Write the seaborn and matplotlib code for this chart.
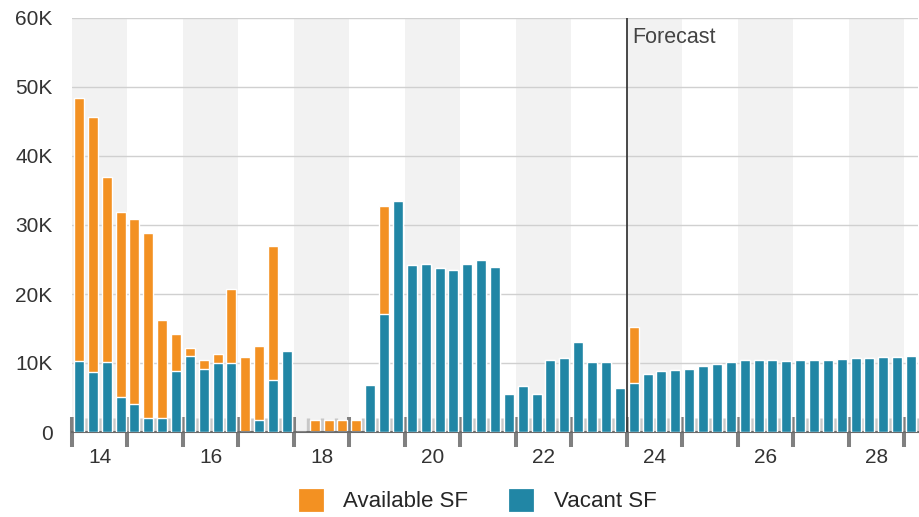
import matplotlib.pyplot as plt
import matplotlib.patches as mpatches
import pandas as pd
import seaborn as sns

# Quarterly data, 2014 Q1 .. 2029 Q1 (values in thousand SF)
quarters = [f"{y} Q{q}" for y in range(2014, 2030) for q in range(1, 5)][:61]

available = [
    48.4, 45.6, 36.9, 31.9,   # 2014
    30.8, 28.8, 16.2, 14.2,   # 2015
    12.2, 10.5, 11.3, 20.7,   # 2016
    10.8, 12.5, 26.9, 9.0,    # 2017
    0.0, 1.8, 1.8, 1.8,       # 2018
    1.8, 6.8, 32.7, 33.5,     # 2019
    24.2, 24.3, 23.8, 23.5,   # 2020
    24.4, 25.0, 23.9, 5.5,    # 2021
    6.7, 5.5, 10.4, 10.7,     # 2022
    13.1, 10.2, 10.2, 6.4,    # 2023
    15.2, 8.4, 8.9, 9.0,      # 2024
    9.2, 9.5, 9.9, 10.2,      # 2025
    10.4, 10.5, 10.4, 10.35,  # 2026
    10.4, 10.45, 10.5, 10.6,  # 2027
    10.7, 10.75, 10.8, 10.85, # 2028
    11.0,                     # 2029
]
vacant = [
    10.3, 8.7, 10.1, 5.1,
    4.1, 2.0, 2.0, 8.8,
    11.0, 9.2, 10.0, 10.0,
    0.0, 1.7, 7.5, 11.7,
    0.0, 0.0, 0.0, 0.0,
    0.0, 6.8, 17.1, 33.5,
    24.2, 24.3, 23.8, 23.5,
    24.4, 25.0, 23.9, 5.5,
    6.7, 5.5, 10.4, 10.7,
    13.1, 10.2, 10.2, 6.4,
    7.1, 8.4, 8.9, 9.0,
    9.2, 9.5, 9.9, 10.2,
    10.4, 10.5, 10.4, 10.35,
    10.4, 10.45, 10.5, 10.6,
    10.7, 10.75, 10.8, 10.85,
    11.0,
]
years = list(range(2014, 2029))
forecast_start = "2024 Q1"

df = pd.DataFrame({
    "quarter": quarters,
    "available": [v * 1000 for v in available],
    "vacant": [v * 1000 for v in vacant],
})

ORANGE = "#F39122"
TEAL = "#2186A5"

sns.set_style("white")
plt.rcParams["font.family"] = ["Liberation Sans", "DejaVu Sans"]

fig = plt.figure(figsize=(9.19, 5.17), dpi=100)
ax = fig.add_axes([72 / 919, 1 - 432 / 517, 846 / 919, 414 / 517])

# alternating year bands
for i, yr in enumerate(years):
    if i % 2 == 0:
        ax.axvspan(4 * i - 0.5, 4 * i + 3.5, color="#F2F2F2", zorder=0, lw=0)

sns.barplot(data=df, x="quarter", y="available", order=quarters, color=ORANGE,
            saturation=1, width=0.72, errorbar=None, ax=ax, zorder=2)
sns.barplot(data=df, x="quarter", y="vacant", order=quarters, color=TEAL,
            saturation=1, width=0.72, errorbar=None, ax=ax, zorder=3)

ax.set_xlim(-0.5, len(quarters) - 0.5)
ax.set_ylim(0, 60000)
ax.set_xlabel("")
ax.set_ylabel("")

# y axis
ax.set_yticks(range(0, 60001, 10000))
ax.set_yticklabels(["0", "10K", "20K", "30K", "40K", "50K", "60K"])
ax.tick_params(axis="y", left=False, length=0, pad=14, labelsize=15, labelcolor="#333333")
ax.yaxis.grid(True, color="#D0D0D0", lw=1.0)
ax.set_axisbelow(True)

# x axis: year boundaries (major) and quarter boundaries (minor)
ax.set_xticks([4 * i - 0.5 for i in range(len(years) + 1)])
ax.set_xticklabels([])
ax.set_xticks([q + 0.5 for q in range(len(quarters)) if (q + 1) % 4 != 0], minor=True)
ax.tick_params(axis="x", which="major", bottom=True, direction="inout", length=21,
               width=2.9, color="#808080")
ax.tick_params(axis="x", which="minor", bottom=True, direction="in", length=10,
               width=2.4, color="#C8C8C8")

for s in ["top", "left", "right"]:
    ax.spines[s].set_visible(False)
ax.spines["bottom"].set_color("#6A6A6A")
ax.spines["bottom"].set_linewidth(1.5)

# year labels centred under each even year
sec = ax.secondary_xaxis("bottom")
sec.set_xticks([4 * i + 1.5 for i, yr in enumerate(years) if i % 2 == 0])
sec.set_xticklabels([str(yr)[2:] for i, yr in enumerate(years) if i % 2 == 0])
sec.tick_params(length=0, pad=11.5, labelsize=15, labelcolor="#333333")
sec.spines["bottom"].set_visible(False)

# forecast marker
fx = quarters.index(forecast_start) - 0.5
ax.axvline(fx, color="#3A3A3A", lw=1.3, zorder=4)
ax.annotate("Forecast", xy=(fx, 60000), xytext=(4.3, -14), textcoords="offset points",
            ha="left", va="center", fontsize=15.5, color="#444444")

handles = [mpatches.Patch(facecolor=ORANGE, edgecolor=ORANGE, lw=2, joinstyle="round",
                          label="Available SF"),
           mpatches.Patch(facecolor=TEAL, edgecolor=TEAL, lw=2, joinstyle="round",
                          label="Vacant SF")]
fig.legend(handles=handles, loc="center", bbox_to_anchor=(478 / 919, 1 - 501 / 517),
           ncol=2, frameon=False, fontsize=16, handlelength=1.0, handleheight=1.0,
           handletextpad=0.95, columnspacing=1.9)

fig.savefig("out.png", dpi=100)
